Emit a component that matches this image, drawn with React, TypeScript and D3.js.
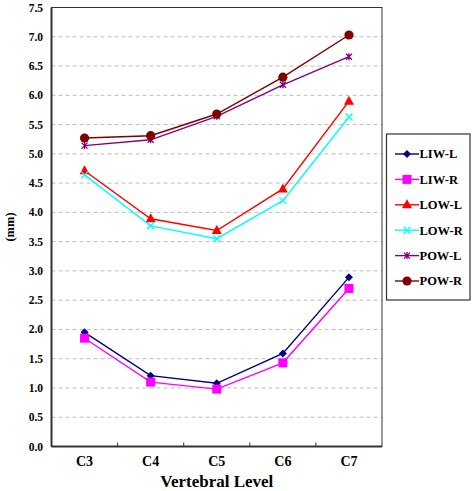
import React from "react";
import * as d3 from "d3";

const categories = ["C3", "C4", "C5", "C6", "C7"];
const seriesNames = ["LIW-L", "LIW-R", "LOW-L", "LOW-R", "POW-L", "POW-R"];
const liwL = [1.95, 1.21, 1.08, 1.59, 2.89];
const liwR = [1.85, 1.1, 0.98, 1.43, 2.7];
const lowL = [4.71, 3.89, 3.69, 4.4, 5.9];
const lowR = [4.64, 3.77, 3.55, 4.2, 5.63];
const powL = [5.14, 5.24, 5.64, 6.18, 6.66];
const powR = [5.27, 5.31, 5.68, 6.31, 7.03];
const yTicks = [0, 0.5, 1, 1.5, 2, 2.5, 3, 3.5, 4, 4.5, 5, 5.5, 6, 6.5, 7, 7.5];

const seriesValues = [liwL, liwR, lowL, lowR, powL, powR];
const colors = ["#000080", "#FF00FF", "#FF0000", "#00FFFF", "#800080", "#800000"];
const markers = ["diamond", "square", "triangle", "x", "star", "circle"];

const W = 472, H = 491;
const left = 51.5, right = 382, top = 7.5, bottom = 446.5;
const fontStyle = { fontFamily: '"Liberation Serif", "Times New Roman", Tinos, serif', fontWeight: 700 as const };

function Marker({ type, x, y, color }: { type: string; x: number; y: number; color: string }) {
  switch (type) {
    case "diamond":
      return <path d={`M${x},${y - 4}L${x + 4},${y}L${x},${y + 4}L${x - 4},${y}Z`} fill={color} />;
    case "square":
      return <rect x={x - 4.5} y={y - 4.5} width={9} height={9} fill={color} />;
    case "triangle":
      return <path d={`M${x},${y - 5.5}L${x + 5},${y + 3.5}L${x - 5},${y + 3.5}Z`} fill={color} />;
    case "x":
      return (
        <path d={`M${x - 3.5},${y - 3.5}L${x + 3.5},${y + 3.5}M${x + 3.5},${y - 3.5}L${x - 3.5},${y + 3.5}`} stroke={color} strokeWidth={1.3} />
      );
    case "star":
      return (
        <path
          d={`M${x - 3},${y - 3}L${x + 3},${y + 3}M${x + 3},${y - 3}L${x - 3},${y + 3}M${x},${y - 3.5}L${x},${y + 3.5}`}
          stroke={color}
          strokeWidth={1.3}
        />
      );
    case "circle":
      return <circle cx={x} cy={y} r={4.6} fill={color} />;
  }
  return null;
}

export default function App() {
  const x = d3.scaleBand().domain(categories).range([left, right]);
  const y = d3.scaleLinear().domain([0, 7.5]).range([bottom, top]);
  const cx = (c: string) => (x(c) as number) + x.bandwidth() / 2;
  const line = d3
    .line<number>()
    .x((_, i) => cx(categories[i]))
    .y((d) => y(d));

  const legendX = 386.5, legendY = 134, legendW = 83.5, legendH = 166;
  const legendItemY = (i: number) => 154 + i * 25.4;

  return (
    <svg width={W} height={H} style={{ position: "absolute", left: 0, top: 0, background: "#fff" }}>
      <rect x={0} y={0} width={W} height={H} fill="#fff" />
      {yTicks
        .filter((t) => t > 0 && t < 7.5)
        .map((t) => (
          <line key={t} x1={left} x2={right} y1={y(t)} y2={y(t)} stroke="#bdbdbd" strokeWidth={1} strokeDasharray="4,3" />
        ))}
      <rect x={left} y={top} width={right - left} height={bottom - top} fill="none" stroke="#333" strokeWidth={1} />
      <line x1={left} x2={left} y1={top} y2={bottom} stroke="#333" strokeWidth={2} />
      <line x1={left} x2={right} y1={bottom} y2={bottom} stroke="#333" strokeWidth={2} />
      {categories.slice(1).map((c) => (
        <line key={c} x1={x(c)} x2={x(c)} y1={bottom} y2={bottom - 4} stroke="#333" strokeWidth={1} />
      ))}
      {yTicks.map((t) => (
        <text key={t} x={43} y={y(t)} dy="0.35em" textAnchor="end" style={fontStyle} fontSize={11.5}>
          {t.toFixed(1)}
        </text>
      ))}
      {categories.map((c) => (
        <text key={c} x={cx(c)} y={466} textAnchor="middle" style={fontStyle} fontSize={14}>
          {c}
        </text>
      ))}
      <text x={(left + right) / 2} y={486.5} textAnchor="middle" style={fontStyle} fontSize={17}>
        Vertebral Level
      </text>
      <text transform={`translate(14,${(top + bottom) / 2}) rotate(-90)`} textAnchor="middle" style={fontStyle} fontSize={12.5}>
        (mm)
      </text>
      {seriesValues.map((vals, si) => (
        <g key={si}>
          <path d={line(vals) || ""} fill="none" stroke={colors[si]} strokeWidth={1.4} />
          {vals.map((v, i) => (
            <Marker key={i} type={markers[si]} x={cx(categories[i])} y={y(v)} color={colors[si]} />
          ))}
        </g>
      ))}
      <rect x={legendX} y={legendY} width={legendW} height={legendH} fill="#fff" stroke="#333" strokeWidth={1.2} />
      {seriesNames.map((n, i) => (
        <g key={n}>
          <line x1={395} x2={419} y1={legendItemY(i)} y2={legendItemY(i)} stroke={colors[i]} strokeWidth={1.4} />
          <Marker type={markers[i]} x={407} y={legendItemY(i)} color={colors[i]} />
          <text x={419.5} y={legendItemY(i)} dy="0.35em" style={fontStyle} fontSize={12.5}>
            {n}
          </text>
        </g>
      ))}
    </svg>
  );
}
